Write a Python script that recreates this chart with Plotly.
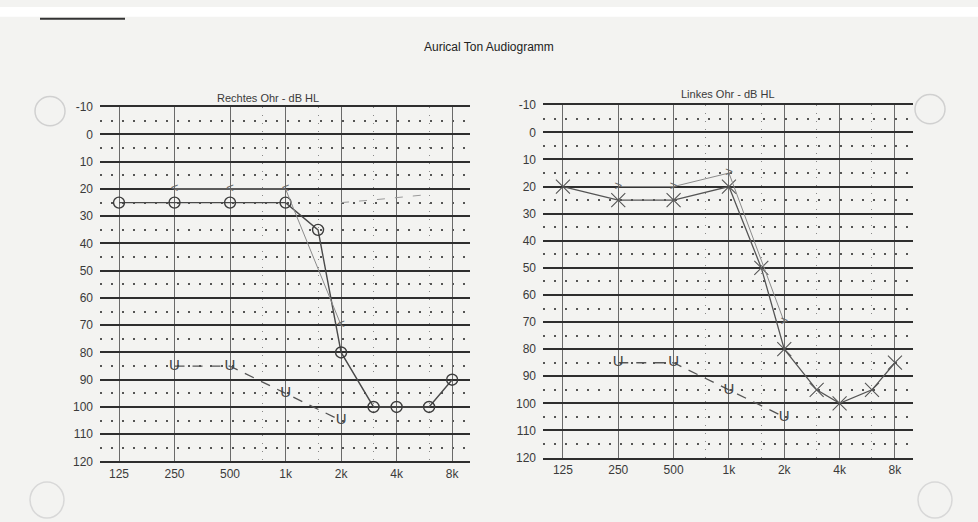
import plotly.graph_objects as go
import numpy as np

# ---------------- data ----------------
freqs_air = [125, 250, 500, 1000, 1500, 2000, 3000, 4000, 6000, 8000]
right_air = [25, 25, 25, 25, 35, 80, 100, 100, 100, 90]
left_air = [20, 25, 25, 20, 50, 80, 95, 100, 95, 85]

freqs_bone = [250, 500, 1000, 2000]
right_bone = [20, 20, 20, 70]
left_bone = [20, 20, 15, 70]

freqs_ucl = [250, 500, 1000, 2000]
right_ucl = [85, 85, 95, 105]
left_ucl = [85, 85, 95, 105]

freqs_faint = [2000, 3000, 6000]
right_faint = [25, 24, 22]

tick_freqs = [125, 250, 500, 1000, 2000, 4000, 8000]
tick_labels = ["125", "250", "500", "1k", "2k", "4k", "8k"]
half_octaves = [750, 1500, 3000, 6000]
db_major = list(range(-10, 121, 10))
db_labels = [str(v) for v in db_major]
db_minor = list(range(-5, 116, 10))

W, H = 978, 522
FONT = "Liberation Sans"
INK = "#3a3a3a"

fig = go.Figure()

def panel(xa, ya, air, air_style, bone, bone_sym, ucl):
    if air_style == "o":
        fig.add_trace(go.Scatter(x=freqs_air, y=air, mode="lines+markers", xaxis=xa, yaxis=ya,
                                 line=dict(color="#4a4a4a", width=1.4),
                                 marker=dict(symbol="circle-open", size=11, color="#3c3c3c",
                                             line=dict(width=1.4)),
                                 showlegend=False))
    else:
        fig.add_trace(go.Scatter(x=freqs_air, y=air, mode="lines+markers", xaxis=xa, yaxis=ya,
                                 line=dict(color="#555555", width=1.3),
                                 marker=dict(symbol="x-thin-open", size=14, color="#555555",
                                             line=dict(width=1.1)),
                                 showlegend=False))
    fig.add_trace(go.Scatter(x=freqs_bone, y=bone, mode="lines+text", xaxis=xa, yaxis=ya,
                             text=[bone_sym] * len(bone), textposition="middle center",
                             textfont=dict(family=FONT, size=13, color="#666666"),
                             line=dict(color="#8a8a8a", width=1),
                             showlegend=False))
    fig.add_trace(go.Scatter(x=freqs_ucl, y=ucl, mode="lines+text", xaxis=xa, yaxis=ya,
                             text=["U"] * len(ucl), textposition="middle center",
                             textfont=dict(family=FONT, size=15, color="#444444"),
                             line=dict(color="#555555", width=1.3, dash="10px,8px"),
                             showlegend=False))

panel("x", "y", right_air, "o", right_bone, "<", right_ucl)
fig.add_trace(go.Scatter(x=freqs_faint, y=right_faint, mode="lines", xaxis="x", yaxis="y",
                         line=dict(color="#999999", width=1, dash="8px,10px"), showlegend=False))
panel("x2", "y2", left_air, "x", left_bone, ">", left_ucl)

def xaxis(px0, px1, f0, f1):
    return dict(type="log", domain=[px0 / W, px1 / W], range=[np.log10(f0), np.log10(f1)],
                tickmode="array", tickvals=tick_freqs, ticktext=tick_labels,
                showgrid=True, gridcolor="#6a6a6a", gridwidth=1,
                minor=dict(tickmode="array", tickvals=half_octaves, showgrid=True,
                           gridcolor="#888888", gridwidth=1.2, griddash="1px,7px"),
                showline=True, mirror=True, linecolor="#2e2e2e", linewidth=1.8,
                zeroline=False, ticks="", fixedrange=True,
                tickfont=dict(family=FONT, size=12, color=INK))

def yaxis(py0, py1, anchor):
    return dict(domain=[1 - py1 / H, 1 - py0 / H], range=[120, -10], anchor=anchor,
                tickmode="array", tickvals=db_major, ticktext=db_labels,
                showgrid=True, gridcolor="#2e2e2e", gridwidth=1.5,
                minor=dict(tickmode="array", tickvals=db_minor, showgrid=True,
                           gridcolor="#555555", gridwidth=2, griddash="2px,9px"),
                showline=False, zeroline=False, ticks="", fixedrange=True,
                ticklabelstandoff=6,
                tickfont=dict(family=FONT, size=12, color=INK))

fig.update_layout(
    width=W, height=H,
    margin=dict(l=0, r=0, t=0, b=0),
    paper_bgcolor="#f3f3f1", plot_bgcolor="rgba(0,0,0,0)",
    xaxis=dict(xaxis(100, 470, 98.6, 10000), anchor="y"),
    yaxis=yaxis(103, 467, "x"),
    xaxis2=dict(xaxis(543, 913, 97.4, 10030), anchor="y2"),
    yaxis2=yaxis(101, 463, "x2"),
    showlegend=False,
    annotations=[
        dict(text="Aurical Ton Audiogramm", x=489 / W, y=1 - 41 / H, xref="paper", yref="paper",
             xanchor="center", yanchor="middle",
             showarrow=False, font=dict(family=FONT, size=12, color="#222222")),
        dict(text="Rechtes Ohr - dB HL", x=268 / W, y=1 - 93 / H, xref="paper", yref="paper",
             xanchor="center", yanchor="middle",
             showarrow=False, font=dict(family=FONT, size=11, color=INK)),
        dict(text="Linkes Ohr - dB HL", x=728 / W, y=1 - 89 / H, xref="paper", yref="paper",
             xanchor="center", yanchor="middle",
             showarrow=False, font=dict(family=FONT, size=11, color=INK)),
    ],
    shapes=[
        dict(type="rect", xref="paper", yref="paper", x0=0, x1=1, y0=1 - 10 / H, y1=1,
             fillcolor="#ffffff", line=dict(width=0), layer="below"),
        dict(type="line", xref="paper", yref="paper", x0=40 / W, x1=125 / W,
             y0=1 - 12 / H, y1=1 - 12 / H, line=dict(color="#333333", width=2)),
        dict(type="circle", xref="paper", yref="paper", x0=35 / W, x1=65 / W,
             y0=1 - 122 / H, y1=1 - 92 / H, line=dict(color="#d0d0d0", width=1.5)),
        dict(type="circle", xref="paper", yref="paper", x0=915 / W, x1=945 / W,
             y0=1 - 120 / H, y1=1 - 90 / H, line=dict(color="#d0d0d0", width=1.5)),
        dict(type="circle", xref="paper", yref="paper", x0=30 / W, x1=64 / W,
             y0=1 - 525 / H, y1=1 - 488 / H, line=dict(color="#d8d8d8", width=1.5)),
        dict(type="circle", xref="paper", yref="paper", x0=918 / W, x1=952 / W,
             y0=1 - 525 / H, y1=1 - 488 / H, line=dict(color="#d8d8d8", width=1.5)),
    ],
)

fig.write_html("out.html", config={"displayModeBar": False},
               post_script="document.body.style.margin='0';document.body.style.padding='0';")
